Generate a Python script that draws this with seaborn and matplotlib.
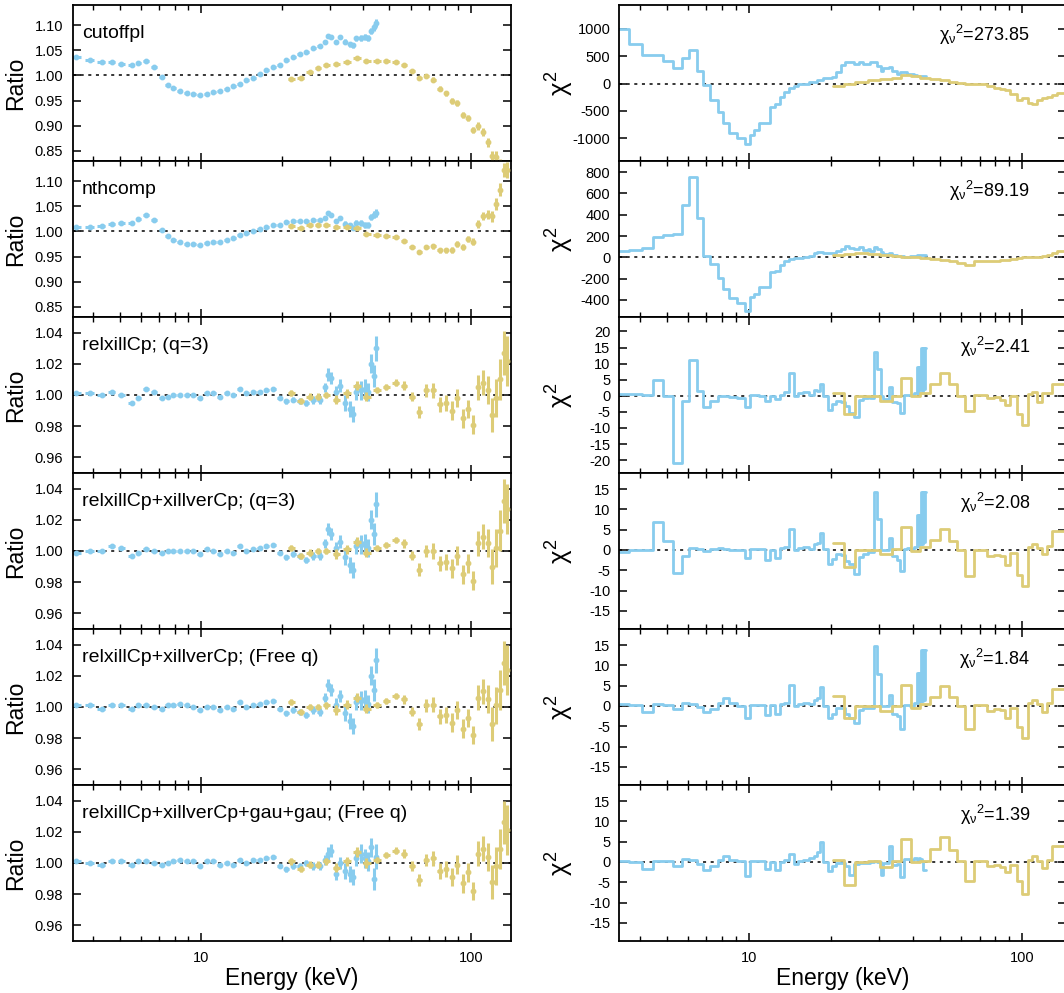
import numpy as np
import matplotlib
matplotlib.use("Agg")
import matplotlib.pyplot as plt
import seaborn as sns
from matplotlib.ticker import FixedLocator, LogLocator, NullFormatter, FormatStrFormatter

# ---------------- data ----------------
models = ["cutoffpl", "nthcomp", "relxillCp; (q=3)", "relxillCp+xillverCp; (q=3)",
          "relxillCp+xillverCp; (Free q)", "relxillCp+xillverCp+gau+gau; (Free q)"]
chi_red = ["273.85", "89.19", "2.41", "2.08", "1.84", "1.39"]

blue_energy = [3.46, 3.88, 4.29, 4.67, 5.08, 5.54, 5.86, 6.29, 6.70, 7.15,
               7.53, 7.90, 8.36, 8.85, 9.37, 9.92, 10.50, 11.11, 11.76, 12.45,
               13.18, 13.95, 14.76, 15.63, 16.54, 17.51, 18.53, 19.62, 20.76,
               21.98, 23.26, 24.63, 26.06, 27.59, 28.79, 29.62, 30.48, 31.80, 32.72,
               34.15, 35.64, 36.67, 37.72, 39.37, 40.50, 41.67, 42.87, 43.73, 44.47]
blue_err = [0.0008, 0.0008, 0.0008, 0.0008, 0.0008, 0.0008, 0.0008, 0.0008, 0.0008, 0.0008,
            0.0008, 0.0008, 0.0008, 0.0008, 0.0008, 0.0008, 0.0008, 0.0008, 0.0008, 0.0008,
            0.001, 0.001, 0.001, 0.001, 0.001, 0.001, 0.0012, 0.0012, 0.0015, 0.0018,
            0.002, 0.002, 0.0025, 0.0025, 0.003, 0.004, 0.004, 0.004, 0.004, 0.005,
            0.005, 0.005, 0.005, 0.006, 0.006, 0.006, 0.006, 0.007, 0.008]

gold_energy = [21.67, 23.46, 25.33, 27.20, 29.20, 31.80, 34.83, 37.93, 41.08, 45.11,
               48.72, 52.76, 56.64, 60.81, 64.36, 68.53, 72.55, 76.80, 80.82, 85.06,
               89.03, 93.67, 97.75, 102.0, 106.8, 111.1, 116.0, 120.3, 124.5, 128.8,
               132.6, 136.4]
gold_err = [0.002, 0.002, 0.002, 0.002, 0.002, 0.003, 0.003, 0.003, 0.003, 0.002,
            0.002, 0.002, 0.003, 0.003, 0.004, 0.004, 0.005, 0.005, 0.005, 0.006,
            0.006, 0.006, 0.006, 0.006, 0.008, 0.008, 0.009, 0.011, 0.012, 0.013,
            0.014, 0.016]

ratio_blue = [
    [1.037, 1.031, 1.027, 1.027, 1.023, 1.020, 1.025, 1.029, 1.016, 0.997,
     0.982, 0.975, 0.970, 0.965, 0.963, 0.961, 0.964, 0.967, 0.970, 0.973,
     0.979, 0.984, 0.990, 0.995, 1.002, 1.010, 1.017, 1.021, 1.030, 1.037,
     1.042, 1.047, 1.054, 1.059, 1.066, 1.079, 1.077, 1.067, 1.076, 1.067,
     1.062, 1.060, 1.074, 1.074, 1.076, 1.074, 1.089, 1.096, 1.104],
    [1.008, 1.009, 1.011, 1.015, 1.016, 1.017, 1.025, 1.032, 1.023, 1.003,
     0.991, 0.983, 0.979, 0.976, 0.975, 0.973, 0.977, 0.979, 0.980, 0.983,
     0.987, 0.993, 0.996, 1.000, 1.004, 1.009, 1.013, 1.012, 1.018, 1.021,
     1.021, 1.021, 1.023, 1.023, 1.027, 1.037, 1.033, 1.020, 1.027, 1.015,
     1.012, 1.007, 1.017, 1.017, 1.013, 1.012, 1.029, 1.033, 1.037],
    [1.001, 1.001, 1.000, 1.002, 1.000, 0.995, 0.998, 1.004, 1.002, 0.998,
     0.999, 1.000, 1.000, 1.000, 1.000, 0.998, 1.001, 1.001, 0.999, 1.001,
     1.000, 1.004, 1.001, 1.002, 1.002, 1.003, 1.004, 0.998, 0.996, 0.997,
     0.996, 0.995, 0.997, 0.997, 1.005, 1.013, 1.011, 1.002, 1.006, 0.995,
     0.991, 0.988, 1.002, 1.003, 1.004, 1.002, 1.020, 1.012, 1.030],
    [0.999, 1.000, 1.000, 1.003, 1.002, 0.997, 0.999, 1.001, 1.000, 0.999,
     1.000, 1.000, 1.000, 1.000, 1.000, 0.998, 1.001, 1.000, 0.998, 1.000,
     0.999, 1.003, 1.000, 1.001, 1.002, 1.003, 1.004, 0.999, 0.996, 0.998,
     0.997, 0.994, 0.997, 0.997, 1.005, 1.014, 1.011, 1.002, 1.006, 0.996,
     0.991, 0.988, 1.003, 1.004, 1.005, 1.002, 1.020, 1.011, 1.030],
    [1.001, 1.001, 0.999, 1.001, 1.001, 0.999, 1.001, 1.001, 1.000, 0.999,
     1.001, 1.0015, 1.002, 1.001, 1.000, 0.998, 1.000, 1.000, 0.998, 1.000,
     0.999, 1.003, 1.000, 1.001, 1.002, 1.003, 1.004, 0.999, 0.996, 0.998,
     0.997, 0.995, 0.998, 0.997, 1.006, 1.014, 1.011, 1.0015, 1.007, 0.996,
     0.991, 0.988, 1.003, 1.004, 1.005, 1.002, 1.020, 1.011, 1.030],
    [1.001, 1.000, 0.999, 1.001, 1.001, 0.999, 1.001, 1.001, 1.000, 0.999,
     1.000, 1.001, 1.002, 1.001, 1.001, 0.998, 1.001, 1.001, 0.999, 1.000,
     0.999, 1.002, 1.000, 1.002, 1.002, 1.003, 1.004, 0.998, 0.996, 0.998,
     0.998, 1.000, 0.998, 0.998, 1.002, 1.006, 1.008, 0.993, 1.000, 0.995,
     0.993, 0.991, 1.003, 1.006, 1.003, 1.001, 1.010, 0.990, 1.004],
]
ratio_gold = [
    [0.992, 0.994, 1.007, 1.014, 1.021, 1.022, 1.027, 1.035, 1.028, 1.028,
     1.028, 1.027, 1.021, 1.009, 0.994, 0.999, 0.991, 0.974, 0.965, 0.950,
     0.946, 0.922, 0.916, 0.892, 0.900, 0.888, 0.867, 0.839, 0.837, 0.820,
     0.810, 0.800],
    [1.010, 1.007, 1.012, 1.012, 1.012, 1.008, 1.008, 1.007, 0.995, 0.993,
     0.991, 0.988, 0.981, 0.970, 0.959, 0.970, 0.971, 0.963, 0.963, 0.963,
     0.976, 0.970, 0.985, 0.980, 1.015, 1.030, 1.033, 1.030, 1.055, 1.083,
     1.123, 1.123],
    [1.0015, 0.996, 0.999, 0.999, 1.000, 0.997, 1.001, 1.006, 0.999, 1.003,
     1.005, 1.008, 1.006, 0.999, 0.989, 1.003, 1.003, 0.994, 0.995, 0.990,
     0.998, 0.985, 0.991, 0.981, 1.005, 1.008, 1.003, 0.987, 0.998, 1.010,
     1.027, 1.022],
    [1.002, 0.997, 0.999, 1.000, 1.000, 0.998, 1.001, 1.006, 0.999, 1.002,
     1.004, 1.007, 1.005, 0.997, 0.988, 1.000, 1.000, 0.992, 0.993, 0.989,
     0.997, 0.985, 0.992, 0.981, 1.005, 1.009, 1.005, 0.990, 1.002, 1.013,
     1.032, 1.027],
    [1.003, 0.997, 1.000, 1.000, 1.001, 0.998, 1.0015, 1.006, 0.999, 1.0015,
     1.004, 1.007, 1.005, 0.997, 0.989, 1.001, 1.0015, 0.994, 0.995, 0.990,
     0.998, 0.986, 0.993, 0.982, 1.006, 1.010, 1.005, 0.989, 1.001, 1.011,
     1.028, 1.024],
    [1.001, 0.996, 0.999, 0.999, 1.001, 0.997, 1.001, 1.007, 1.000, 1.002,
     1.005, 1.008, 1.006, 0.998, 0.989, 1.002, 1.003, 0.995, 0.996, 0.991,
     0.999, 0.987, 0.994, 0.982, 1.006, 1.009, 1.004, 0.988, 0.998, 1.009,
     1.026, 1.021],
]

# chi^2 contributions, binned (bin edges in keV)
chi_blue_edges = [3.360, 3.655, 4.056, 4.476, 4.842, 5.268, 5.684, 6.045, 6.448, 6.821,
                  7.217, 7.743, 8.076, 8.495, 9.036, 9.696, 10.11, 10.46, 10.94, 11.48,
                  11.97, 12.49, 13.02, 13.47, 13.98, 14.58, 15.20, 15.86, 16.55, 17.26,
                  17.75, 18.25, 18.77, 19.47, 20.14, 20.89, 21.73, 22.54, 23.37, 24.18,
                  25.22, 26.30, 27.21, 27.82, 28.62, 29.43, 30.44, 31.13, 32.48, 33.39,
                  34.84, 35.84, 36.86, 37.92, 38.99, 40.10, 41.25, 41.71, 42.06, 42.42,
                  42.78, 43.14, 43.51, 43.88, 44.25, 44.62]
chi_gold_edges = [20.31, 22.23, 24.52, 27.21, 30.27, 33.39, 36.14, 39.32, 42.42, 46.14,
                  50.22, 53.87, 57.79, 61.99, 66.53, 70.37, 74.42, 78.72, 83.28, 86.86,
                  90.63, 95.87, 100.0, 104.9, 108.8, 113.5, 118.4, 123.5, 128.8, 134.4,
                  150.0]

chi_blue = [
    [1000, 727, 515, 515, 406, 285, 467, 606, 224, -18,
     -300, -515, -715, -909, -1000, -1103, -939, -848, -727, -727,
     -424, -376, -255, -152, -85, -48, -12, -12, 24, 24,
     73, 73, 103, 103, 121, 212, 333, 400, 400, 364,
     400, 364, 364, 388, 388, 327, 230, 285, 303, 224,
     182, 206, 206, 170, 170, 152, 145, 145, 139, 139,
     139, 139, 139, 139, 139],
    [56, 69, 84, 188, 209, 219, 490, 756, 366, 16,
     -62, -194, -297, -381, -431, -500, -375, -344, -281, -281,
     -141, -125, -69, -37, -19, -9, -6, 0, 16, 41,
     53, 53, 44, 37, 44, 56, 78, 109, 87, 78,
     94, 69, 78, 62, 94, 78, 47, 31, 37, 25,
     12, 12, 6, 6, 16, 12, 19, 19, 19, 19,
     19, 19, 19, 19, 19],
    [0.5, 0.5, 0.3, 5, 0, -21, -1.7, 11, 1.6, -3.6,
     -1.5, 0, 0, -0.4, -0.8, -3.4, 0.3, 0.4, 0, -1.5,
     -0.2, -1, 0.3, 1.2, 7, 0, 0.8, 1.2, 0.2, 1.9,
     1.5, 3.6, 0, -4.3, -2.6, -1.5, -1.9, -3.1, -5.2, -6.7,
     -1.2, -0.8, -0.4, -0.6, 13.6, 8.2, 0, -1, 2.8, -1.9,
     -2.3, -5.4, 0.4, 0.4, 0.2, 0.8, 9, 1, 9, 2,
     15, 1, 15, 2, 15],
    [-0.6, 0, 0, 7, 2.3, -5.7, -1.6, 0.5, 0.2, -0.2,
     0.2, 0.4, 0.2, 0.1, 0.1, -2, 0.2, 0.2, 0.2, -2.4,
     0.1, -1.9, 0.4, 0.7, 5.2, 0.1, 0.4, 0.7, 0.2, 1.4,
     1.7, 4.2, 0.2, -3.4, -2.2, -1, -1.2, -2.6, -3.4, -5.9,
     -1.8, -1, -0.6, -0.4, 14.2, 7.6, 0.1, -0.1, 2.9, -1.6,
     -2.4, -5.1, 0.2, 0.5, 0.2, 0.7, 8.7, 1, 8.7, 1.5,
     14.2, 1.5, 14.2, 2, 14.2],
    [0.6, 0.2, -1.6, 0.4, 0.2, -0.7, 0.8, 0.4, -0.2, -1.6,
     -0.8, 0.8, 1.9, 0.8, 0, -3, 0.2, 0.2, 0.2, -2.2,
     0.2, -1.9, 0.4, 0.7, 5.2, 0, 0.4, 0.7, 0.4, 1.4,
     1.9, 4.7, 0, -2.9, -2, -0.4, -0.6, -1.9, -2.9, -4.3,
     -1.1, -0.4, -0.6, -0.4, 14.8, 7.8, 0, 0, 2.7, -1.9,
     -2.5, -5.7, 0.2, 0.2, 0, 0.7, 8.2, 0.8, 8.2, 1.2,
     13.8, 1.2, 13.8, 1.5, 13.8],
    [0.2, 0, -1.7, 0.3, 0.3, -0.9, 0.7, 0.6, -0.4, -2,
     -0.9, 0.6, 1.4, 0.6, 0.2, -3.5, 0.3, 0.3, 0.3, -1.7,
     0, -2, 0, 0.4, 2, -0.4, 0.2, 0.6, 1, 1.6,
     2.4, 4.9, 0, -2.3, -0.9, -0.2, -0.2, -0.9, -3.1, -0.4,
     -0.2, -0.2, -0.2, -0.1, 0.3, 0, -3.1, -0.3, 4, -0.7,
     -0.4, -3.7, 0.7, 0.8, 0.6, 1, 0.6, 0.8, 1, 0.5,
     0.8, 0.3, -1.9, -1.9, -1.9],
]
chi_gold = [
    [-36, -12, 30, 61, 79, 109, 152, 133, 109, 85,
     61, 30, 12, 0, 0, -12, -36, -73, -91, -121,
     -194, -303, -273, -352, -376, -303, -273, -242, -212, -182],
    [25, 31, 37, 31, 22, 12, 6, 0, -6, -16,
     -25, -37, -56, -69, -31, -31, -37, -31, -25, -25,
     -12, -6, 0, 6, 6, 0, 16, 22, 37, 56],
    [0.8, -5.7, -0.2, -0.2, -1.7, 0, 5.4, 0, 0.8, 3.6,
     7, 3.6, 0, -4.6, 0.3, 0.2, -0.8, -0.3, -1.2, -2.9,
     0, -5.7, -9.1, 0.5, 1.2, -1.9, 0.8, 1.0, 3.6, 3.6],
    [1.7, -4.1, 0, 0, -1.1, 0.2, 5.7, -0.2, 0.7, 2.5,
     5.2, 2.3, 0, -6.3, 0, 0, -1.6, -1.2, -1.6, -3.6,
     -0.8, -6.1, -8.8, 0.7, 1.5, 0.4, -1, 0.9, 4.8, 4.8],
    [2.5, -3, 0, 0, -1.2, 0, 5.1, -0.4, 0.4, 2.2,
     4.9, 2.2, 0, -5.8, 0.2, 0.2, -1.2, -0.8, -1.1, -2.9,
     -0.4, -5.2, -8, 0.7, 1.6, 0.4, -1.4, 0.8, 4.1, 4.1],
    [0.6, -5.7, 0, 0.2, -1.2, 0.2, 5.7, 0, 0.2, 3.2,
     6.1, 3, 0.3, -4.6, 0.3, 0.3, -0.9, -0.7, -1.2, -2.5,
     -0.7, -4.8, -8, 0.6, 1.4, 0.2, -1.5, 0.6, 3.9, 3.9],
]

ratio_ylims = [(0.83, 1.14), (0.83, 1.14), (0.95, 1.05), (0.95, 1.05), (0.95, 1.05), (0.95, 1.05)]
ratio_yticks = [[0.85, 0.90, 0.95, 1.00, 1.05, 1.10], [0.85, 0.90, 0.95, 1.00, 1.05, 1.10],
                [0.96, 0.98, 1.00, 1.02, 1.04], [0.96, 0.98, 1.00, 1.02, 1.04],
                [0.96, 0.98, 1.00, 1.02, 1.04], [0.96, 0.98, 1.00, 1.02, 1.04]]
chi_ylims = [(-1420, 1440), (-560, 905), (-24, 24.5), (-19.5, 19), (-19.5, 19), (-19.5, 19)]
chi_yticks = [[-1000, -500, 0, 500, 1000], [-400, -200, 0, 200, 400, 600, 800],
              [-20, -15, -10, -5, 0, 5, 10, 15, 20], [-15, -10, -5, 0, 5, 10, 15],
              [-15, -10, -5, 0, 5, 10, 15], [-15, -10, -5, 0, 5, 10, 15]]

BLUE = "#88CCEE"
GOLD = "#DDCC77"

# ---------------- style ----------------
sns.set_theme(style="ticks")
plt.rcParams["font.family"] = ["Liberation Sans", "DejaVu Sans"]
plt.rcParams.update({
    "mathtext.fontset": "custom",
    "mathtext.rm": "Liberation Sans",
    "mathtext.it": "Liberation Sans",
    "mathtext.bf": "Liberation Sans:bold",
    "axes.linewidth": 1.3,
    "axes.edgecolor": "black",
    "axes.labelcolor": "black",
    "text.color": "black",
    "xtick.color": "black",
    "ytick.color": "black",
    "xtick.labelcolor": "black",
    "ytick.labelcolor": "black",
})

W, H = 1064, 993
fig = plt.figure(figsize=(W / 100, H / 100), dpi=100)


def half_widths(e, frac=0.75):
    le = np.log10(np.asarray(e))
    d = np.diff(le)
    d = np.r_[d[0], d, d[-1]]
    lo = 10 ** (le - 0.5 * frac * d[:-1])
    hi = 10 ** (le + 0.5 * frac * d[1:])
    return np.vstack([np.asarray(e) - lo, hi - np.asarray(e)])


def style_axis(ax, xlim, bottom):
    ax.set_xscale("log")
    ax.set_xlim(*xlim)
    ax.xaxis.set_major_locator(FixedLocator([10, 100]))
    ax.xaxis.set_minor_locator(LogLocator(base=10, subs=np.arange(2, 10)))
    ax.xaxis.set_minor_formatter(NullFormatter())
    ax.xaxis.set_major_formatter(FormatStrFormatter("%d"))
    ax.tick_params(which="both", direction="in", top=True, right=True, labelsize=10.5)
    ax.tick_params(which="major", length=6, width=1.1, pad=7)
    ax.tick_params(which="minor", length=3.5, width=1.0)
    ax.tick_params(axis="x", labelbottom=bottom)
    if bottom:
        ax.set_xlabel("Energy (keV)", fontsize=16.5)
        ax.xaxis.set_label_coords(0.5, -0.165)
    else:
        ax.set_xlabel("")
    for s in ax.spines.values():
        s.set_visible(True)
        s.set_linewidth(1.3)


xerr_b = half_widths(blue_energy)
xerr_g = half_widths(gold_energy)

row_h = 156
for i in range(6):
    top = 5 + row_h * i
    y0 = 1 - (top + row_h) / H
    h = row_h / H
    last = i == 5

    # ---- left: data/model ratio ----
    axl = fig.add_axes([73 / W, y0, 438 / W, h])
    axl.axhline(1.0, color="black", lw=1.1, ls=(0, (2, 3)), zorder=1)
    axl.errorbar(blue_energy, ratio_blue[i], xerr=xerr_b, yerr=blue_err, fmt="o",
                 ms=3.2, color=BLUE, elinewidth=2.2, capsize=0, zorder=2)
    axl.errorbar(gold_energy, ratio_gold[i], xerr=xerr_g, yerr=gold_err, fmt="o",
                 ms=3.2, color=GOLD, elinewidth=2.2, capsize=0, zorder=3)
    style_axis(axl, (3.36, 141), last)
    axl.set_ylim(*ratio_ylims[i])
    axl.set_yticks(ratio_yticks[i])
    axl.yaxis.set_major_formatter(FormatStrFormatter("%.2f"))
    axl.set_ylabel("Ratio", fontsize=16.5)
    axl.yaxis.set_label_coords(-0.105, 0.5)
    axl.text(0.02, 0.82, models[i], transform=axl.transAxes, fontsize=14,
             ha="left", va="center")

    # ---- right: chi^2 residual steps ----
    axr = fig.add_axes([618.7 / W, y0, 447.3 / W, h])
    axr.axhline(0.0, color="black", lw=1.1, ls=(0, (2, 3)), zorder=1)
    sns.lineplot(x=chi_blue_edges, y=chi_blue[i] + [chi_blue[i][-1]], ax=axr,
                 drawstyle="steps-post", color=BLUE, lw=2.0, estimator=None, zorder=2)
    sns.lineplot(x=chi_gold_edges, y=chi_gold[i] + [chi_gold[i][-1]], ax=axr,
                 drawstyle="steps-post", color=GOLD, lw=2.0, estimator=None, zorder=3)
    style_axis(axr, (3.34, 145), last)
    axr.set_ylim(*chi_ylims[i])
    axr.set_yticks(chi_yticks[i])
    axr.yaxis.set_major_formatter(FormatStrFormatter("%d"))
    axr.tick_params(axis="y", pad=6)
    axr.set_ylabel(r"$\chi^2$", fontsize=18.5)
    axr.yaxis.set_label_coords(-0.095, 0.5)
    axr.text(0.92, 0.81, r"$\chi_{\nu}{}^{2}$=" + chi_red[i], transform=axr.transAxes,
             fontsize=13, ha="right", va="center")

fig.savefig("out.png", dpi=100)
